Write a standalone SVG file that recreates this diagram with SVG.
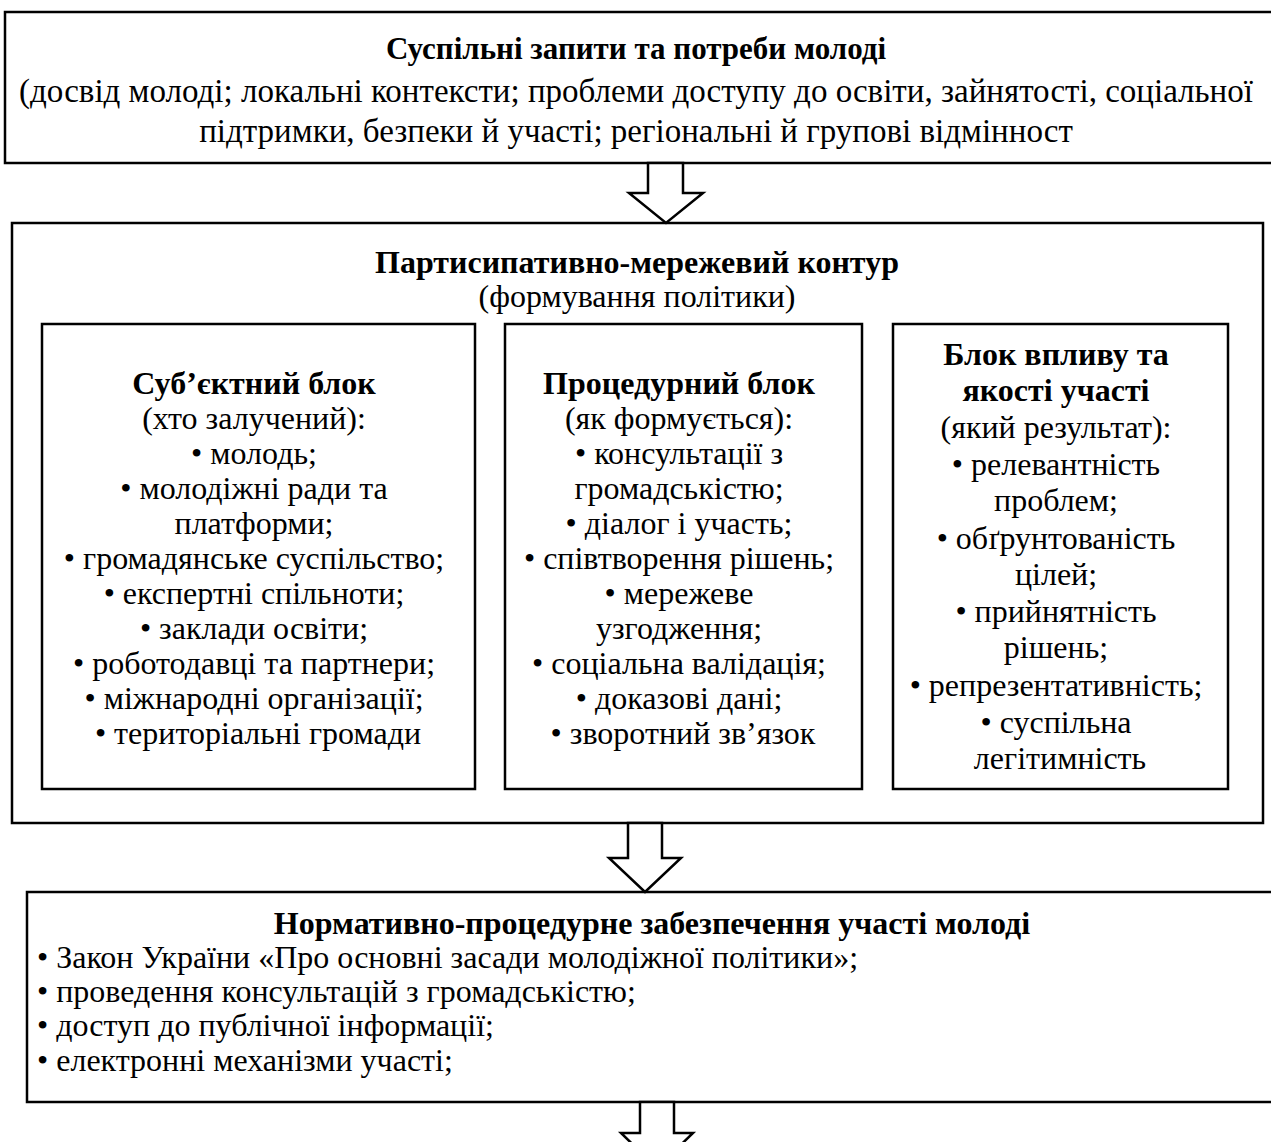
<svg xmlns="http://www.w3.org/2000/svg" width="1271" height="1142" viewBox="0 0 1271 1142">
<style>
.box{fill:#fff;stroke:#000;stroke-width:2.5}
.arr{fill:#fff;stroke:#000;stroke-width:2.5;stroke-linejoin:miter}
text{font-family:"Liberation Serif","Times New Roman",serif;font-size:32px;fill:#000}
.c{text-anchor:middle}
.b{font-weight:bold}
.t{font-size:33px}
</style>
<rect width="1271" height="1142" fill="#fff"/>
<g id="node-needs">
<rect class="box" x="5" y="12" width="1272" height="151"/>
<text class="c b" x="636" y="59" style="font-size:31px">Суспільні запити та потреби молоді</text>
<text class="c t" x="636" y="102">(досвід молоді; локальні контексти; проблеми доступу до освіти, зайнятості, соціальної</text>
<text class="c t" x="636" y="142">підтримки, безпеки й участі; регіональні й групові відмінност</text>
</g>
<g id="node-contour">
<rect class="box" x="12" y="223" width="1251" height="600"/>
<text class="c b" x="637" y="273">Партисипативно-мережевий контур</text>
<text class="c" x="637" y="307">(формування політики)</text>
</g>
<g id="node-subject">
<rect class="box" x="42" y="324" width="433" height="465"/>
<text class="c" x="258" y="394"><tspan class="b">Суб’єктний блок</tspan>
<tspan x="258" dy="35">(хто залучений):</tspan>
<tspan x="258" dy="35">• молодь;</tspan>
<tspan x="258" dy="35">• молодіжні ради та</tspan>
<tspan x="258" dy="35">платформи;</tspan>
<tspan x="258" dy="35">• громадянське суспільство;</tspan>
<tspan x="258" dy="35">• експертні спільноти;</tspan>
<tspan x="258" dy="35">• заклади освіти;</tspan>
<tspan x="258" dy="35">• роботодавці та партнери;</tspan>
<tspan x="258" dy="35">• міжнародні організації;</tspan>
<tspan x="258" dy="35">• територіальні громади</tspan></text>
</g>
<g id="node-procedure">
<rect class="box" x="505" y="324" width="357" height="465"/>
<text class="c" x="683" y="394"><tspan class="b">Процедурний блок</tspan>
<tspan x="683" dy="35">(як формується):</tspan>
<tspan x="683" dy="35">• консультації з</tspan>
<tspan x="683" dy="35">громадськістю;</tspan>
<tspan x="683" dy="35">• діалог і участь;</tspan>
<tspan x="683" dy="35">• співтворення рішень;</tspan>
<tspan x="683" dy="35">• мережеве</tspan>
<tspan x="683" dy="35">узгодження;</tspan>
<tspan x="683" dy="35">• соціальна валідація;</tspan>
<tspan x="683" dy="35">• доказові дані;</tspan>
<tspan x="683" dy="35">• зворотний зв’язок</tspan></text>
</g>
<g id="node-impact">
<rect class="box" x="893" y="324" width="335" height="465"/>
<text class="c" x="1060" y="365"><tspan class="b">Блок впливу та</tspan>
<tspan class="b" x="1060" dy="36">якості участі</tspan>
<tspan x="1060" dy="37">(який результат):</tspan>
<tspan x="1060" dy="37">• релевантність</tspan>
<tspan x="1060" dy="36">проблем;</tspan>
<tspan x="1060" dy="38">• обґрунтованість</tspan>
<tspan x="1060" dy="36">цілей;</tspan>
<tspan x="1060" dy="37">• прийнятність</tspan>
<tspan x="1060" dy="36">рішень;</tspan>
<tspan x="1060" dy="38">• репрезентативність;</tspan>
<tspan x="1060" dy="37">• суспільна</tspan>
<tspan x="1060" dy="36">легітимність</tspan></text>
</g>
<g id="node-normative">
<rect class="box" x="27" y="892" width="1250" height="210"/>
<text class="c b" x="652" y="934">Нормативно-процедурне забезпечення участі молоді</text>
<text x="37" y="968">• Закон України «Про основні засади молодіжної політики»;</text>
<text x="37" y="1002">• проведення консультацій з громадськістю;</text>
<text x="37" y="1036">• доступ до публічної інформації;</text>
<text x="37" y="1071">• електронні механізми участі;</text>
</g>
<g id="connectors">
<polygon class="arr" points="648,163 683,163 683,193 703,193 666,223 629,193 648,193"/>
<polygon class="arr" points="628,823 662,823 662,858 681,858 645,892 609,858 628,858"/>
<polygon class="arr" points="640,1102 674,1102 674,1133 693,1133 657,1168 621,1133 640,1133"/>
</g>
</svg>
